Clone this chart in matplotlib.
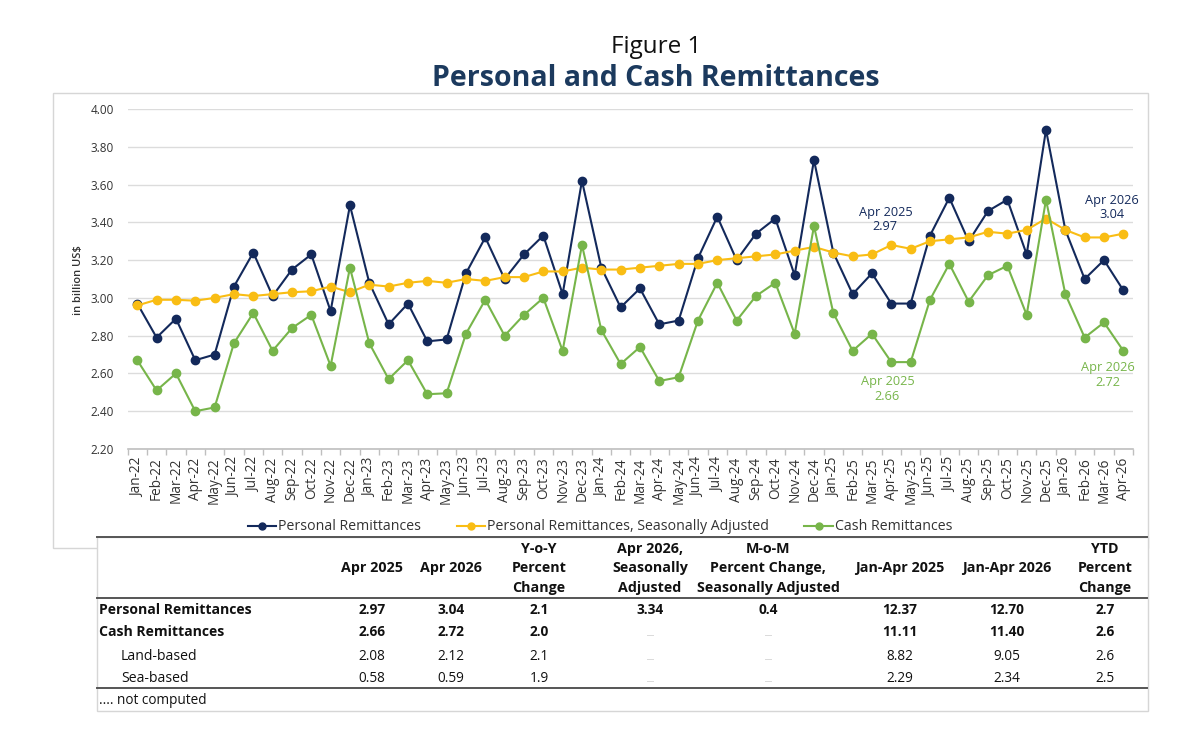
import matplotlib
matplotlib.use("Agg")
import matplotlib.pyplot as plt
from matplotlib.patches import Rectangle
from matplotlib.lines import Line2D

# ---------------- data ----------------
months = ["Jan-22", "Feb-22", "Mar-22", "Apr-22", "May-22", "Jun-22", "Jul-22", "Aug-22", "Sep-22", "Oct-22", "Nov-22", "Dec-22",
          "Jan-23", "Feb-23", "Mar-23", "Apr-23", "May-23", "Jun-23", "Jul-23", "Aug-23", "Sep-23", "Oct-23", "Nov-23", "Dec-23",
          "Jan-24", "Feb-24", "Mar-24", "Apr-24", "May-24", "Jun-24", "Jul-24", "Aug-24", "Sep-24", "Oct-24", "Nov-24", "Dec-24",
          "Jan-25", "Feb-25", "Mar-25", "Apr-25", "May-25", "Jun-25", "Jul-25", "Aug-25", "Sep-25", "Oct-25", "Nov-25", "Dec-25",
          "Jan-26", "Feb-26", "Mar-26", "Apr-26"]

personal = [2.97, 2.79, 2.89, 2.67, 2.70, 3.06, 3.24, 3.01, 3.15, 3.23, 2.93, 3.49,
            3.08, 2.86, 2.97, 2.77, 2.78, 3.13, 3.32, 3.10, 3.23, 3.33, 3.02, 3.62,
            3.16, 2.95, 3.05, 2.86, 2.88, 3.21, 3.43, 3.20, 3.34, 3.42, 3.12, 3.73,
            3.24, 3.02, 3.13, 2.97, 2.97, 3.33, 3.53, 3.30, 3.46, 3.52, 3.23, 3.89,
            3.36, 3.10, 3.20, 3.04]

personal_sa = [2.96, 2.99, 2.99, 2.985, 3.00, 3.02, 3.01, 3.02, 3.03, 3.035, 3.06, 3.03,
               3.07, 3.06, 3.08, 3.09, 3.08, 3.10, 3.09, 3.11, 3.11, 3.14, 3.14, 3.16,
               3.15, 3.15, 3.16, 3.17, 3.18, 3.18, 3.20, 3.21, 3.22, 3.23, 3.25, 3.27,
               3.24, 3.22, 3.23, 3.28, 3.26, 3.30, 3.31, 3.32, 3.35, 3.34, 3.36, 3.42,
               3.36, 3.32, 3.32, 3.34]

cash = [2.67, 2.51, 2.60, 2.40, 2.42, 2.76, 2.92, 2.72, 2.84, 2.91, 2.64, 3.16,
        2.76, 2.57, 2.67, 2.49, 2.495, 2.81, 2.99, 2.80, 2.91, 3.00, 2.72, 3.28,
        2.83, 2.65, 2.74, 2.56, 2.58, 2.88, 3.08, 2.88, 3.01, 3.08, 2.81, 3.38,
        2.92, 2.72, 2.81, 2.66, 2.66, 2.99, 3.18, 2.98, 3.12, 3.17, 2.91, 3.52,
        3.02, 2.79, 2.87, 2.72]

y_ticks = [2.20, 2.40, 2.60, 2.80, 3.00, 3.20, 3.40, 3.60, 3.80, 4.00]

series_names = ["Personal Remittances", "Personal Remittances, Seasonally Adjusted", "Cash Remittances"]

table_headers = [["", "Apr 2025", ""], ["", "Apr 2026", ""], ["Y-o-Y", "Percent", "Change"],
                 ["Apr 2026,", "Seasonally", "Adjusted"],
                 ["M-o-M", "Percent Change,", "Seasonally Adjusted"],
                 ["", "Jan-Apr 2025", ""], ["", "Jan-Apr 2026", ""], ["YTD", "Percent", "Change"]]
row_labels = ["Personal Remittances", "Cash Remittances", "Land-based", "Sea-based"]
table_values = [["2.97", "3.04", "2.1", "3.34", "0.4", "12.37", "12.70", "2.7"],
                ["2.66", "2.72", "2.0", "....", "....", "11.11", "11.40", "2.6"],
                ["2.08", "2.12", "2.1", "....", "....", "8.82", "9.05", "2.6"],
                ["0.58", "0.59", "1.9", "....", "....", "2.29", "2.34", "2.5"]]
footnote = ".... not computed"

# ---------------- style ----------------
NAVY = "#13295b"
YELLOW = "#f9bd14"
GREEN = "#77b54a"
TITLE = "#1c3a5e"
FONT = ["Open Sans", "DejaVu Sans"]
plt.rcParams["font.family"] = FONT

W, H = 1200, 754
def fx(x):
    return x / W
def fy(y):
    return 1 - y / H

fig = plt.figure(figsize=(12, 7.54), dpi=100)
fig.patch.set_facecolor("white")

# chart frame
fig.add_artist(Rectangle((fx(53), fy(548)), (1148 - 53) / W, (548 - 93) / H,
                         transform=fig.transFigure, fill=False, ec="#d6d6d6", lw=1, zorder=1))

ax = fig.add_axes([fx(127.6), fy(449), (1133 - 127.6) / W, 340 / H])
x = list(range(len(months)))
lw, ms = 1.5, 6.0
ax.plot(x, personal, color=NAVY, lw=lw, marker="o", ms=ms, zorder=3)
ax.plot(x, personal_sa, color=YELLOW, lw=lw, marker="o", ms=ms, zorder=4)
ax.plot(x, cash, color=GREEN, lw=lw, marker="o", ms=ms, zorder=5)

ax.set_xlim(-0.5, len(months) - 0.5)
ax.set_ylim(2.2, 4.0)
ax.set_yticks(y_ticks)
ax.set_yticklabels([f"{v:.2f}" for v in y_ticks], fontsize=8.5, color="#333333")
ax.set_xticks(x)
ax.set_xticklabels(months, rotation=90, fontsize=9.8, color="#333333")
ax.set_xticks([i - 0.5 for i in range(len(months) + 1)], minor=True)
ax.tick_params(axis="x", which="major", length=0, pad=6)
ax.tick_params(axis="x", which="minor", length=4, color="#bfbfbf", width=1)
ax.tick_params(axis="y", length=0, pad=10)
ax.yaxis.grid(True, color="#dcdcdc", lw=1)
ax.set_axisbelow(True)
for s in ["top", "right", "left"]:
    ax.spines[s].set_visible(False)
ax.spines["bottom"].set_color("#bfbfbf")
ax.spines["bottom"].set_linewidth(1.2)

fig.text(fx(78), fy(280), "in billion US\\$", rotation=90, ha="center", va="center",
         fontsize=8, fontweight="semibold", color="#333333")

# annotations
i25 = months.index("Apr-25")
i26 = months.index("Apr-26")
ann = dict(textcoords="offset pixels", ha="center", va="center", fontsize=9.2, linespacing=1.15)
ax.annotate(f"Apr 2025\n{personal[i25]:.2f}", (i25, personal[i25]), xytext=(-6, 84), color=NAVY, **ann)
ax.annotate(f"Apr 2026\n{personal[i26]:.2f}", (i26, personal[i26]), xytext=(-11, 83), color=NAVY, **ann)
ax.annotate(f"Apr 2025\n{cash[i25]:.2f}", (i25, cash[i25]), xytext=(-4, -27), color=GREEN, **ann)
ax.annotate(f"Apr 2026\n{cash[i26]:.2f}", (i26, cash[i26]), xytext=(-15, -24), color=GREEN, **ann)

# legend
handles = [Line2D([], [], color=c, lw=lw, marker="o", ms=5) for c in (NAVY, YELLOW, GREEN)]
fig.legend(handles, series_names, loc="center", bbox_to_anchor=(fx(600), fy(527)), ncol=3,
           frameon=False, fontsize=10.2, handlelength=2.0, handletextpad=0.15, columnspacing=2.5,
           labelcolor="#333333")

# titles
fig.text(fx(656), fy(47), "Figure 1", ha="center", va="center", fontsize=17.5, color="#111111")
fig.text(fx(656), fy(79), "Personal and Cash Remittances", ha="center", va="center",
         fontsize=20.5, fontweight="bold", color=TITLE)

# table box
fig.add_artist(Rectangle((fx(97), fy(711)), (1148 - 97) / W, (711 - 537) / H,
                         transform=fig.transFigure, fc="white", ec="#d6d6d6", lw=1, zorder=2))
for yy in (537, 598, 688):
    fig.add_artist(Line2D([fx(97), fx(1147)], [fy(yy), fy(yy)], transform=fig.transFigure,
                          color="#555555", lw=1.4, zorder=3))

col_x = [372, 451, 539, 650, 768, 900, 1007, 1105]
head_y = [549, 568, 588]
for cx, lines in zip(col_x, table_headers):
    for yy, t in zip(head_y, lines):
        if t:
            fig.text(fx(cx), fy(yy), t, ha="center", va="center", fontsize=10.3,
                     fontweight="bold", color="#111111", zorder=4)

row_y = [610, 632, 656, 679]
for r, (lab, yy) in enumerate(zip(row_labels, row_y)):
    bold = r < 2
    fig.text(fx(99 if bold else 121), fy(yy), lab, ha="left", va="center", fontsize=10.1,
             fontweight="bold" if bold else "normal", color="#111111", zorder=4)
    for cx, v in zip(col_x, table_values[r]):
        if v == "....":
            fig.text(fx(cx), fy(yy + 2), v, ha="center", va="center", fontsize=5.5,
                     color="#888888", zorder=4)
        else:
            fig.text(fx(cx), fy(yy), v, ha="center", va="center", fontsize=9.8,
                     fontweight="bold" if bold else "normal", color="#111111", zorder=4)

fig.text(fx(99), fy(701), footnote, ha="left", va="center", fontsize=9.8, color="#111111", zorder=4)

fig.savefig("out.png", dpi=100, facecolor="white")
